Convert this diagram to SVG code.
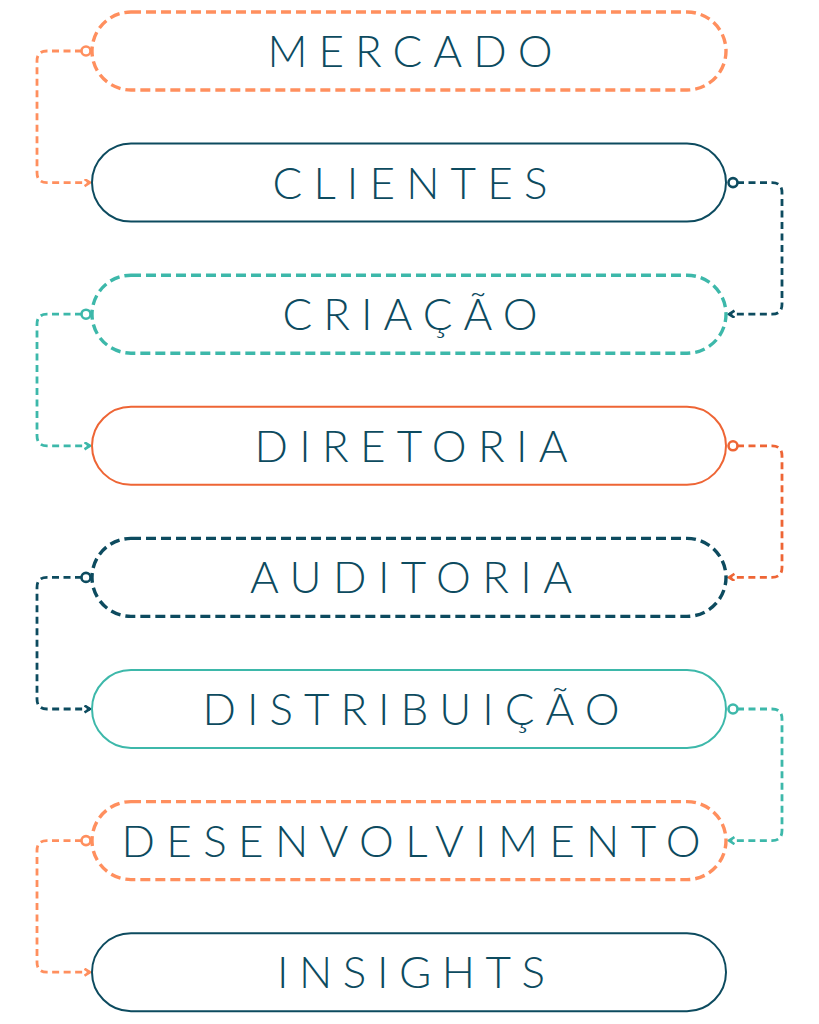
<svg xmlns="http://www.w3.org/2000/svg" width="819" height="1024" viewBox="0 0 819 1024">
<style>
.box{fill:#fff}
.lo{stroke:#FF8F5E}
.dk{stroke:#0D4B5F}
.tl{stroke:#3DB8AA}
.rd{stroke:#EE6535}
.dash{stroke-width:3.4;stroke-dasharray:10 5}
.solid{stroke-width:2}
.lbl{font-family:Lato,"Open Sans","Liberation Sans",sans-serif;font-weight:300;font-size:44px;fill:#0D4B5F;text-anchor:middle}
.conn{fill:none;stroke-width:2.8;stroke-dasharray:7 4.5}
.dot{fill:#fff;stroke-width:2.6}
</style>
<defs>
<marker id="aR-lo" markerWidth="10" markerHeight="10" refX="6" refY="4" orient="auto" markerUnits="userSpaceOnUse"><path d="M0.5,0.5 L6,4 L0.5,7.5" fill="none" stroke="#FF8F5E" stroke-width="2.6"/></marker>
<marker id="a-dk" markerWidth="10" markerHeight="10" refX="6" refY="4" orient="auto" markerUnits="userSpaceOnUse"><path d="M0.5,0.5 L6,4 L0.5,7.5" fill="none" stroke="#0D4B5F" stroke-width="2.6"/></marker>
<marker id="a-tl" markerWidth="10" markerHeight="10" refX="6" refY="4" orient="auto" markerUnits="userSpaceOnUse"><path d="M0.5,0.5 L6,4 L0.5,7.5" fill="none" stroke="#3DB8AA" stroke-width="2.6"/></marker>
<marker id="a-rd" markerWidth="10" markerHeight="10" refX="6" refY="4" orient="auto" markerUnits="userSpaceOnUse"><path d="M0.5,0.5 L6,4 L0.5,7.5" fill="none" stroke="#EE6535" stroke-width="2.6"/></marker>
</defs>

<g id="connectors">
<path class="conn lo" d="M82,51 H47 Q37,51 37,61 V172.6 Q37,182.6 47,182.6 H90" marker-end="url(#aR-lo)"/>
<path class="conn dk" d="M737,182.6 H772 Q782,182.6 782,192.6 V304.2 Q782,314.2 772,314.2 H729" marker-end="url(#a-dk)"/>
<path class="conn tl" d="M82,314.2 H47 Q37,314.2 37,324.2 V435.8 Q37,445.8 47,445.8 H90" marker-end="url(#a-tl)"/>
<path class="conn rd" d="M737,445.8 H772 Q782,445.8 782,455.8 V567.4 Q782,577.4 772,577.4 H729" marker-end="url(#a-rd)"/>
<path class="conn dk" d="M82,577.4 H47 Q37,577.4 37,587.4 V699 Q37,709 47,709 H90" marker-end="url(#a-dk)"/>
<path class="conn tl" d="M737,709 H772 Q782,709 782,719 V830.6 Q782,840.6 772,840.6 H729" marker-end="url(#a-tl)"/>
<path class="conn lo" d="M82,840.6 H47 Q37,840.6 37,850.6 V962.2 Q37,972.2 47,972.2 H90" marker-end="url(#aR-lo)"/>
</g>

<g id="n1"><rect class="box lo dash" x="92" y="12" width="634" height="78" rx="39"/><text class="lbl" x="410" y="67" textLength="285" lengthAdjust="spacing">MERCADO</text><circle class="dot lo" cx="86" cy="51" r="4.5"/></g>
<g id="n2"><rect class="box dk solid" x="92" y="143.6" width="634" height="78" rx="39"/><text class="lbl" x="410" y="198.6" textLength="275" lengthAdjust="spacing">CLIENTES</text><circle class="dot dk" cx="733" cy="182.6" r="4.5"/></g>
<g id="n3"><rect class="box tl dash" x="92" y="275.2" width="634" height="78" rx="39"/><text class="lbl" x="410" y="330.2" textLength="255" lengthAdjust="spacing">CRIAÇÃO</text><circle class="dot tl" cx="86" cy="314.2" r="4.5"/></g>
<g id="n4"><rect class="box rd solid" x="92" y="406.8" width="634" height="78" rx="39"/><text class="lbl" x="411" y="461.8" textLength="313" lengthAdjust="spacing">DIRETORIA</text><circle class="dot rd" cx="733" cy="445.8" r="4.5"/></g>
<g id="n5"><rect class="box dk dash" x="92" y="538.4" width="634" height="78" rx="39"/><text class="lbl" x="411" y="593.4" textLength="322" lengthAdjust="spacing">AUDITORIA</text><circle class="dot dk" cx="86" cy="577.4" r="4.5"/></g>
<g id="n6"><rect class="box tl solid" x="92" y="670" width="634" height="78" rx="39"/><text class="lbl" x="411" y="725" textLength="417" lengthAdjust="spacing">DISTRIBUIÇÃO</text><circle class="dot tl" cx="733" cy="709" r="4.5"/></g>
<g id="n7"><rect class="box lo dash" x="92" y="801.6" width="634" height="78" rx="39"/><text class="lbl" x="411" y="856.6" textLength="579" lengthAdjust="spacing">DESENVOLVIMENTO</text><circle class="dot lo" cx="86" cy="840.6" r="4.5"/></g>
<g id="n8"><rect class="box dk solid" x="92" y="933.2" width="634" height="78" rx="39"/><text class="lbl" x="411" y="988.2" textLength="268" lengthAdjust="spacing">INSIGHTS</text></g>
</svg>
